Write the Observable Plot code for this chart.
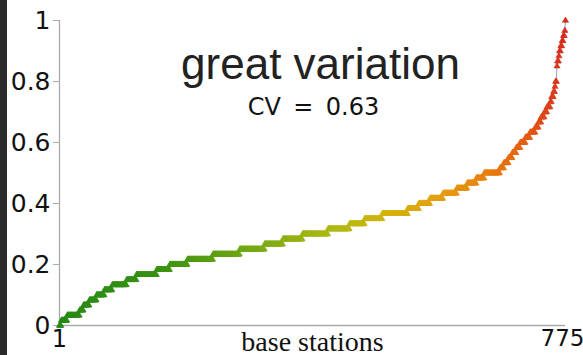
<!DOCTYPE html>
<html>
<head>
<meta charset="utf-8">
<script src="https://cdn.jsdelivr.net/npm/d3@7"></script>
<script src="https://cdn.jsdelivr.net/npm/@observablehq/plot@0.6"></script>
<style>
  html, body { margin: 0; padding: 0; background: #fff; }
  #wrap { position: relative; width: 583px; height: 355px; overflow: hidden; }
  #strip { position: absolute; left: 0; top: 0; width: 7px; height: 355px; background: #2b2b2b; }
</style>
</head>
<body>
<div id="wrap"><div id="strip"></div></div>
<script>
// Quantized load levels (in 1/60 units) and number of base stations at each level, sorted ascending
const levelUnits = 60;
const levels = [0,1,2,3,4,5,6,7,8,9,10,11,12,13,14,15,16,17,18,19,20,21,22,23,24,25,26,27,28,29,30,31,32,33,34,35,36,37,38,39,40,41,42,43,44,45,46,47,48,51,52,53,54,55,56,57,58,60];
const counts = [3,9,19,6,9,11,12,12,22,15,31,20,27,39,41,38,28,30,39,33,23,27,39,17,17,20,21,16,14,12,24,6,7,6,6,6,8,7,8,5,4,5,4,5,2,3,2,1,2,1,2,1,2,2,2,2,1,1];

const yTicks = [0, 0.2, 0.4, 0.6, 0.8, 1];
const yTickLabels = ["0", "0.2", "0.4", "0.6", "0.8", "1"];
const xFirstTick = 1, xFirstLabel = "1";
const xLastTick = 775, xLastLabel = "775";
const titleText = "great variation";
const subtitleText = "CV\u2009 =\u2009 0.63";
const xLabel = "base stations";

const colorDomain = [1, 155, 310, 426, 503, 580, 658, 720, 775];
const colorRange = ["#268a16", "#3a9212", "#7aab14", "#b2ba12", "#d2b40a", "#e4a010", "#e8800e", "#e65a12", "#d42a1e"];

const data = [];
levels.forEach((k, j) => {
  for (let c = 0; c < counts[j]; c++) data.push({i: data.length + 1, v: k / levelUnits});
});

const chart = Plot.plot({
  width: 583,
  height: 355,
  marginLeft: 59,
  marginRight: 18,
  marginTop: 20,
  marginBottom: 30,
  style: {background: "transparent", fontFamily: "DejaVu Sans"},
  x: {domain: [1, 775], axis: null},
  y: {domain: [0, 1], axis: null},
  color: {type: "linear", domain: colorDomain, range: colorRange, interpolate: "rgb"},
  marks: [
    Plot.ruleX([1], {y1: 0, y2: 1, stroke: "#aaa", strokeWidth: 1.3}),
    Plot.ruleY([0], {stroke: "#aaa", strokeWidth: 1.3}),
    Plot.axisY({ticks: yTicks, tickFormat: (d, k) => yTickLabels[k], tickSize: 6, tickPadding: 3, fontSize: 25, stroke: "#aaa", fill: "#111", label: null}),
    Plot.axisX({ticks: [xFirstTick], tickFormat: () => xFirstLabel, tickSize: 0, tickPadding: 4, fontSize: 24, fill: "#111", label: null}),
    Plot.axisX({ticks: [xLastTick], tickFormat: () => xLastLabel, tickSize: 0, tickPadding: 4, dx: -3, fontSize: 23, fill: "#111", label: null}),
    Plot.line(data, {x: "i", y: "v", stroke: "#8aa4c8", strokeWidth: 1}),
    Plot.dot(data, {x: "i", y: "v", symbol: "triangle", r: 2.3, fill: "i", stroke: "i", strokeWidth: 0.6}),
    Plot.text([titleText], {frameAnchor: "top", lineAnchor: "top", dx: 8, dy: 27, fontSize: 44, fontFamily: "Liberation Sans", fill: "#222"}),
    Plot.text([subtitleText], {frameAnchor: "top", lineAnchor: "top", dx: 1, dy: 77, fontSize: 24, fontFamily: "DejaVu Sans", fill: "#111"}),
    Plot.text([xLabel], {frameAnchor: "bottom", lineAnchor: "bottom", dy: 25, fontSize: 28, fontFamily: "Liberation Serif", fill: "#111"})
  ]
});
document.getElementById("wrap").appendChild(chart);
</script>
</body>
</html>
